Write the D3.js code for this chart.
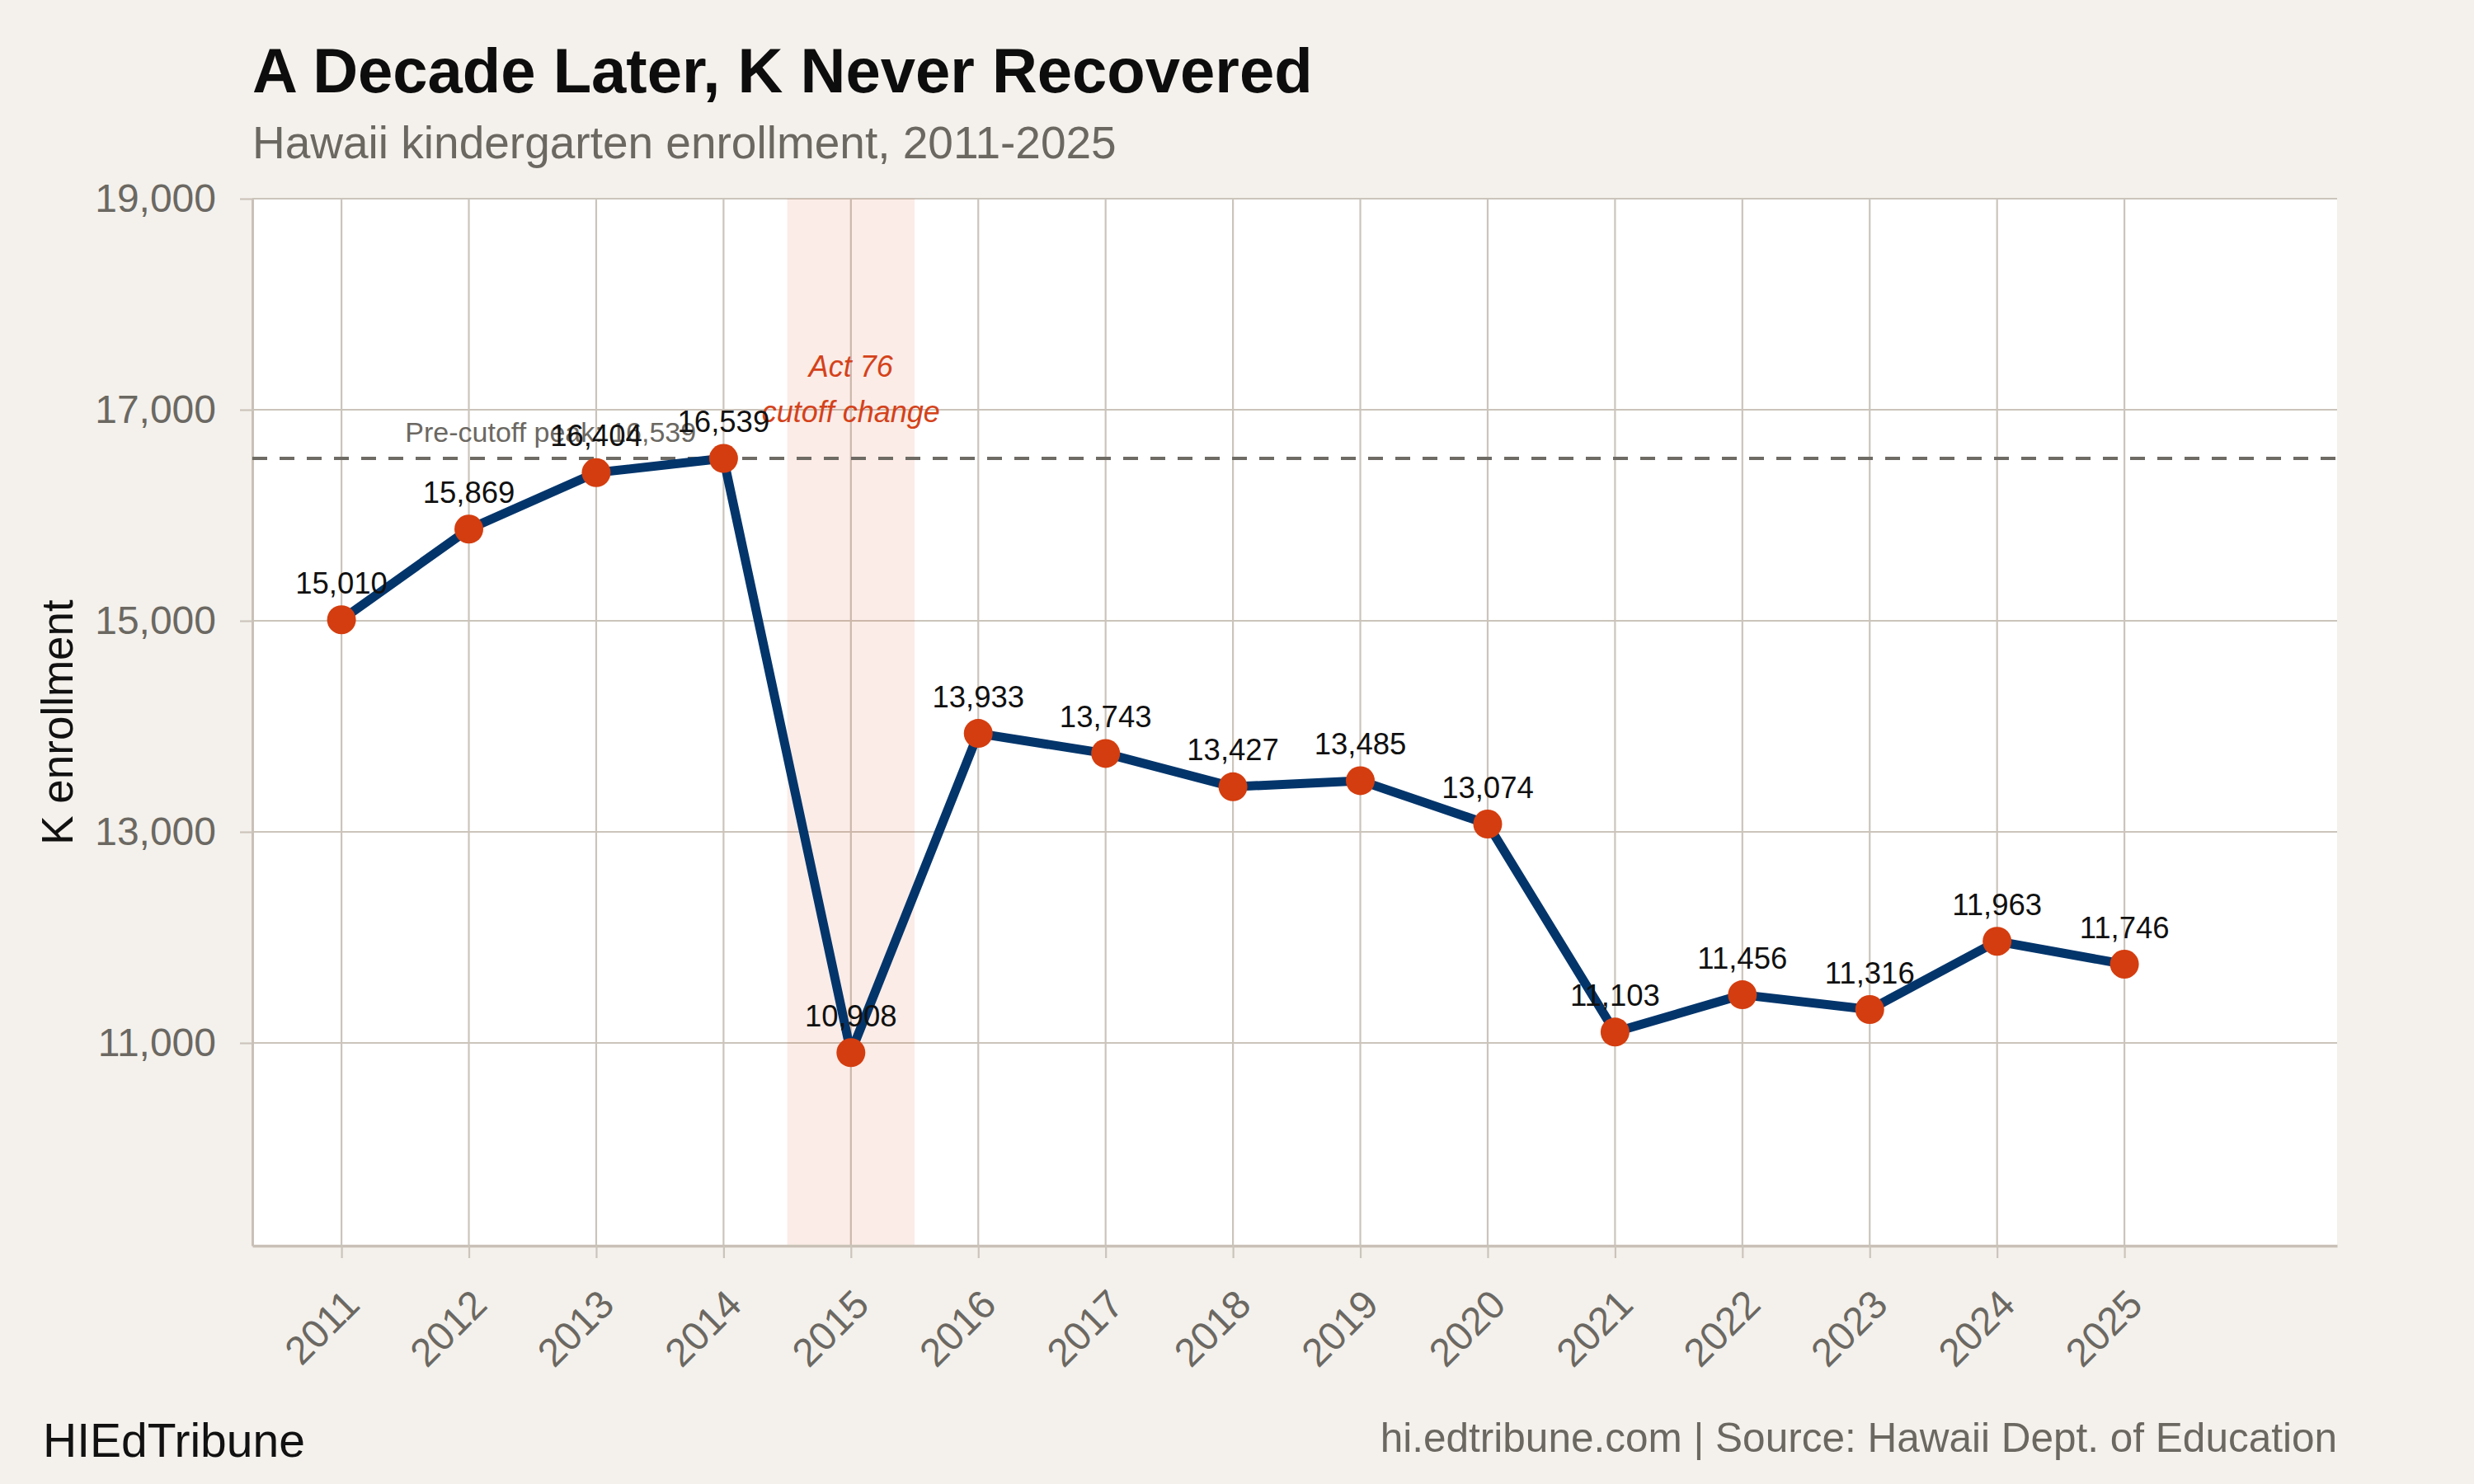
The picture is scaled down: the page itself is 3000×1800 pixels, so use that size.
<!DOCTYPE html>
<html>
<head>
<meta charset="utf-8">
<script src="https://cdn.jsdelivr.net/npm/d3@7"></script>
<style>
  body { margin: 0; background: #f4f1ec; }
  svg { display: block; font-family: "Liberation Sans", Arial, Helvetica, sans-serif; }
</style>
</head>
<body>
<div id="chart"></div>
<script>
// data
var years = [2011, 2012, 2013, 2014, 2015, 2016, 2017, 2018, 2019, 2020, 2021, 2022, 2023, 2024, 2025];
var enrollment = [15010, 15869, 16404, 16539, 10908, 13933, 13743, 13427, 13485, 13074, 11103, 11456, 11316, 11963, 11746];
var yTicks = [11000, 13000, 15000, 17000, 19000];
var peakValue = 16539;
var cutoffYear = 2015;

var width = 3000,
    height = 1800;

var plot = { left: 306, right: 2834, top: 241, bottom: 1511 };

var svg = d3.select("#chart")
    .append("svg")
    .attr("width", width)
    .attr("height", height);

svg.append("rect")
    .attr("width", width)
    .attr("height", height)
    .attr("fill", "#f4f1ec");

var x = d3.scaleLinear().domain([2010.3, 2026.67]).range([plot.left, plot.right]);
var y = d3.scaleLinear().domain([9078, 19000]).range([plot.bottom, plot.top]);

var data = years.map(function (d, i) { return { year: d, value: enrollment[i] }; });

// panel
svg.append("rect")
    .attr("x", plot.left)
    .attr("y", plot.top)
    .attr("width", plot.right - plot.left)
    .attr("height", plot.bottom - plot.top)
    .attr("fill", "#ffffff");

var gridColor = "#cbc4bb";

// grid lines
svg.append("g").selectAll("line")
    .data(yTicks)
    .enter().append("line")
    .attr("x1", plot.left).attr("x2", plot.right)
    .attr("y1", d => y(d)).attr("y2", d => y(d))
    .attr("stroke", gridColor)
    .attr("stroke-width", 2.2);

svg.append("g").selectAll("line")
    .data(years)
    .enter().append("line")
    .attr("x1", d => x(d)).attr("x2", d => x(d))
    .attr("y1", plot.top).attr("y2", plot.bottom)
    .attr("stroke", gridColor)
    .attr("stroke-width", 2.2);

// Act 76 band
svg.append("rect")
    .attr("x", x(cutoffYear - 0.5))
    .attr("y", plot.top)
    .attr("width", x(cutoffYear + 0.5) - x(cutoffYear - 0.5))
    .attr("height", plot.bottom - plot.top)
    .attr("fill", "#d4400f")
    .attr("fill-opacity", 0.1);

// axes
var yAxis = d3.axisLeft(y)
    .tickValues(yTicks)
    .tickSize(15)
    .tickSizeOuter(0)
    .tickPadding(29)
    .tickFormat(d3.format(","));

var gy = svg.append("g")
    .attr("transform", "translate(" + plot.left + ",0)")
    .call(yAxis);
gy.select(".domain").attr("stroke", "#c9c1b7").attr("stroke-width", 3);
gy.selectAll(".tick line").attr("stroke", gridColor).attr("stroke-width", 2.2);
gy.selectAll(".tick text")
    .attr("fill", "#6b6862")
    .attr("font-size", 48)
    .attr("font-family", "Liberation Sans, Arial, sans-serif");

var xAxis = d3.axisBottom(x)
    .tickValues(years)
    .tickSize(15)
    .tickSizeOuter(0)
    .tickFormat(d3.format("d"));

var gx = svg.append("g")
    .attr("transform", "translate(0," + plot.bottom + ")")
    .call(xAxis);
gx.select(".domain").attr("stroke", "#c9c1b7").attr("stroke-width", 3.5);
gx.selectAll(".tick line").attr("stroke", gridColor).attr("stroke-width", 2.2);
gx.selectAll(".tick text")
    .attr("fill", "#6b6862")
    .attr("font-size", 48)
    .attr("font-family", "Liberation Sans, Arial, sans-serif")
    .attr("text-anchor", "end")
    .attr("y", 0)
    .attr("dy", 0)
    .attr("transform", "translate(24,74) rotate(-45)");

// peak reference line
svg.append("line")
    .attr("x1", plot.left).attr("x2", plot.right)
    .attr("y1", y(peakValue)).attr("y2", y(peakValue))
    .attr("stroke", "#6e6a64")
    .attr("stroke-width", 4)
    .attr("stroke-dasharray", "18,15");

svg.append("text")
    .attr("x", x(2011.5))
    .attr("y", y(peakValue) - 20)
    .attr("fill", "#6b6862")
    .attr("font-size", 34)
    .text("Pre-cutoff peak: " + d3.format(",")(peakValue));

// Act 76 annotation
var note = svg.append("text")
    .attr("text-anchor", "middle")
    .attr("fill", "#d4421a")
    .attr("font-size", 36)
    .attr("font-style", "italic");
note.append("tspan").attr("x", x(cutoffYear)).attr("y", 457).text("Act 76");
note.append("tspan").attr("x", x(cutoffYear)).attr("y", 512).text("cutoff change");

// line + points
var line = d3.line()
    .x(d => x(d.year))
    .y(d => y(d.value));

svg.append("path")
    .datum(data)
    .attr("d", line)
    .attr("fill", "none")
    .attr("stroke", "#03356b")
    .attr("stroke-width", 11)
    .attr("stroke-linejoin", "round");

svg.append("g").selectAll("circle")
    .data(data)
    .enter().append("circle")
    .attr("cx", d => x(d.year))
    .attr("cy", d => y(d.value))
    .attr("r", 17.5)
    .attr("fill", "#d43d0f");

svg.append("g").selectAll("text")
    .data(data)
    .enter().append("text")
    .attr("x", d => x(d.year))
    .attr("y", d => y(d.value) - 32)
    .attr("text-anchor", "middle")
    .attr("fill", "#111111")
    .attr("font-size", 36.5)
    .text(d => d3.format(",")(d.value));

// titles
svg.append("text")
    .attr("x", 306).attr("y", 112)
    .attr("font-size", 76)
    .attr("font-weight", "bold")
    .attr("fill", "#0d0d0d")
    .text("A Decade Later, K Never Recovered");

svg.append("text")
    .attr("x", 306).attr("y", 192)
    .attr("font-size", 55)
    .attr("fill", "#6b6862")
    .text("Hawaii kindergarten enrollment, 2011-2025");

svg.append("text")
    .attr("transform", "translate(88," + ((plot.top + plot.bottom) / 2) + ") rotate(-90)")
    .attr("text-anchor", "middle")
    .attr("font-size", 53)
    .attr("fill", "#111111")
    .text("K enrollment");

// captions
svg.append("text")
    .attr("x", 52).attr("y", 1767)
    .attr("font-size", 57)
    .attr("fill", "#111111")
    .text("HIEdTribune");

svg.append("text")
    .attr("x", plot.right).attr("y", 1761)
    .attr("text-anchor", "end")
    .attr("font-size", 49.5)
    .attr("fill", "#6b6862")
    .text("hi.edtribune.com | Source: Hawaii Dept. of Education");
</script>
</body>
</html>
